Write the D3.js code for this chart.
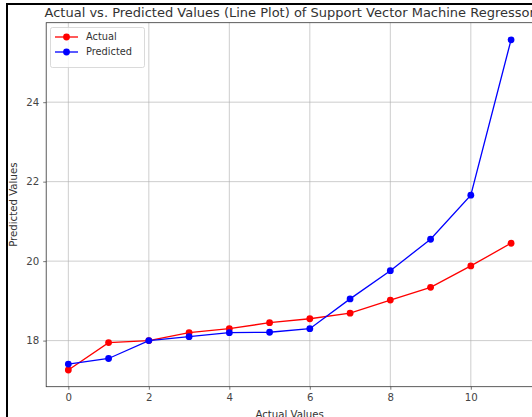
<!DOCTYPE html>
<html>
<head>
<meta charset="utf-8">
<script src="https://cdn.jsdelivr.net/npm/d3@7"></script>
<style>
  html, body { margin: 0; padding: 0; background: #fff; }
  svg { display: block; font-family: "DejaVu Sans", sans-serif; }
</style>
</head>
<body>
<svg id="chart" width="532" height="417"></svg>
<script>
// data
var xIndex = [0, 1, 2, 3, 4, 5, 6, 7, 8, 9, 10, 11];
var actualValues = [17.26, 17.95, 18.0, 18.2, 18.3, 18.45, 18.55, 18.69, 19.02, 19.34, 19.88, 20.45];
var predictedValues = [17.41, 17.55, 18.0, 18.1, 18.2, 18.21, 18.3, 19.05, 19.76, 20.55, 21.66, 25.57];
var xTicks = [0, 2, 4, 6, 8, 10];
var yTicks = [18, 20, 22, 24];

var svg = d3.select("#chart");
var width = 532, height = 417;
var mLeft = 46.2, mRight = 533.2, mTop = 22.7, mBottom = 386.7;
var fontSize = 10.2;

var x = d3.scaleLinear().domain([-0.55, 11.55]).range([mLeft, mRight]);
var y = d3.scaleLinear().domain([16.84, 26.0]).range([mBottom, mTop]);

// outer frame
svg.append("rect")
  .attr("x", 7).attr("y", 4)
  .attr("width", width).attr("height", height)
  .attr("fill", "#fff")
  .attr("stroke", "#000")
  .attr("stroke-width", 2);

// grid
var grid = svg.append("g");
grid.selectAll("line.gx").data(xTicks).enter().append("line")
  .attr("x1", function(d) { return x(d); }).attr("x2", function(d) { return x(d); })
  .attr("y1", mTop).attr("y2", mBottom)
  .attr("stroke", "#b0b0b0").attr("stroke-width", 0.8).attr("stroke-opacity", 0.8);
grid.selectAll("line.gy").data(yTicks).enter().append("line")
  .attr("y1", function(d) { return y(d); }).attr("y2", function(d) { return y(d); })
  .attr("x1", mLeft).attr("x2", mRight)
  .attr("stroke", "#b0b0b0").attr("stroke-width", 0.8).attr("stroke-opacity", 0.8);

// axes
var xAxis = svg.append("g")
  .attr("transform", "translate(0," + mBottom + ")")
  .call(d3.axisBottom(x).tickValues(xTicks).tickSize(3).tickPadding(4).tickFormat(d3.format("d")));
var yAxis = svg.append("g")
  .attr("transform", "translate(" + mLeft + ",0)")
  .call(d3.axisLeft(y).tickValues(yTicks).tickSize(3).tickPadding(4).tickFormat(d3.format("d")));

[xAxis, yAxis].forEach(function(ax) {
  ax.select(".domain").remove();
  ax.selectAll("text").attr("font-size", fontSize).attr("fill", "#444")
    .attr("font-family", "DejaVu Sans, sans-serif");
  ax.selectAll("line").attr("stroke", "#555").attr("stroke-width", 0.8);
});

// spines
svg.append("rect")
  .attr("x", mLeft).attr("y", mTop)
  .attr("width", mRight - mLeft).attr("height", mBottom - mTop)
  .attr("fill", "none").attr("stroke", "#333").attr("stroke-width", 0.8);

// series
var series = [
  { name: "Actual", values: actualValues, color: "#ff0000" },
  { name: "Predicted", values: predictedValues, color: "#0000ff" }
];

var line = d3.line()
  .x(function(d, i) { return x(xIndex[i]); })
  .y(function(d) { return y(d); });

series.forEach(function(s) {
  svg.append("path")
    .datum(s.values)
    .attr("d", line)
    .attr("fill", "none")
    .attr("stroke", s.color)
    .attr("stroke-width", 1.3);
  svg.selectAll(null).data(s.values).enter().append("circle")
    .attr("cx", function(d, i) { return x(xIndex[i]); })
    .attr("cy", function(d) { return y(d); })
    .attr("r", 3.4)
    .attr("fill", s.color);
});

// legend
var legend = svg.append("g");
legend.append("rect")
  .attr("x", 50.5).attr("y", 27.5)
  .attr("width", 94).attr("height", 40)
  .attr("rx", 2)
  .attr("fill", "#fff").attr("fill-opacity", 0.8)
  .attr("stroke", "#d0d0d0").attr("stroke-width", 0.8);
series.forEach(function(s, i) {
  var ly = 37 + i * 15;
  legend.append("line")
    .attr("x1", 55).attr("x2", 78).attr("y1", ly).attr("y2", ly)
    .attr("stroke", s.color).attr("stroke-width", 1.3);
  legend.append("circle").attr("cx", 66.5).attr("cy", ly).attr("r", 3.4).attr("fill", s.color);
  legend.append("text")
    .attr("x", 86).attr("y", ly).attr("dy", "0.35em")
    .attr("font-size", 9.8).attr("fill", "#333")
    .text(s.name);
});

// title and axis labels
svg.append("text")
  .attr("x", (mLeft + mRight) / 2).attr("y", 17)
  .attr("text-anchor", "middle")
  .attr("font-size", 13).attr("fill", "#333")
  .text("Actual vs. Predicted Values (Line Plot) of Support Vector Machine Regressor");

svg.append("text")
  .attr("x", (mLeft + mRight) / 2).attr("y", 417.5)
  .attr("text-anchor", "middle")
  .attr("font-size", fontSize).attr("fill", "#333")
  .text("Actual Values");

svg.append("text")
  .attr("transform", "translate(17," + ((mTop + mBottom) / 2) + ") rotate(-90)")
  .attr("text-anchor", "middle")
  .attr("font-size", fontSize).attr("fill", "#333")
  .text("Predicted Values");
</script>
</body>
</html>
